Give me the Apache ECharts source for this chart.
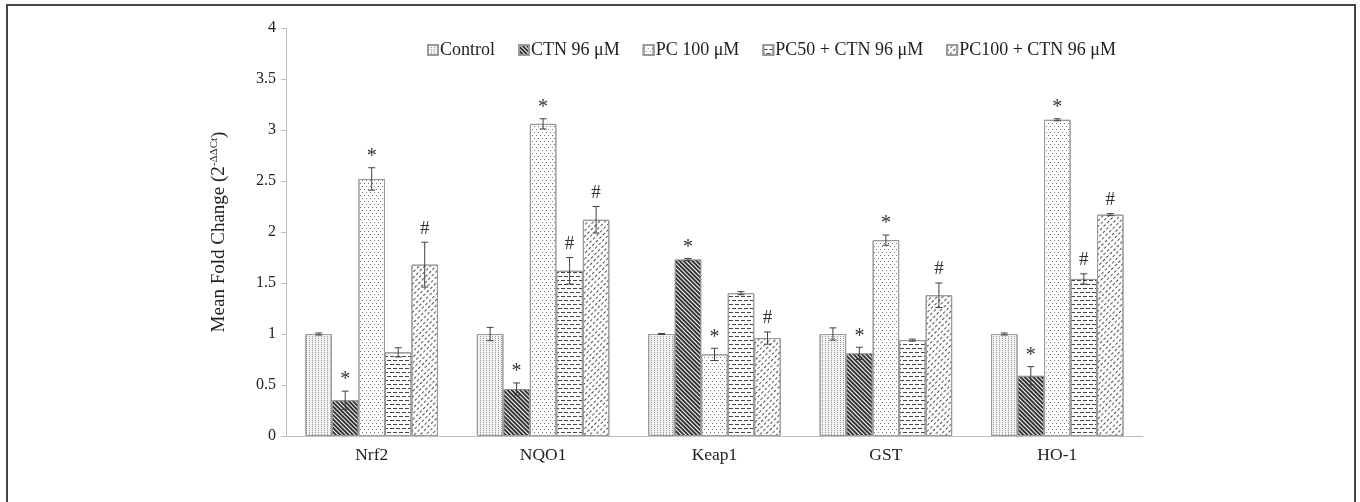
<!DOCTYPE html>
<html>
<head>
<meta charset="utf-8">
<script src="https://cdn.jsdelivr.net/npm/echarts@6/dist/echarts.min.js"></script>
<style>
  html, body { margin: 0; padding: 0; background: #fff; }
  #chart { width: 1360px; height: 502px; }
</style>
</head>
<body>
<div id="chart"></div>
<script>
// genes on the x axis
const genes = ['Nrf2', 'NQO1', 'Keap1', 'GST', 'HO-1'];
const groups = ['Control', 'CTN 96 μM', 'PC 100 μM', 'PC50 + CTN 96 μM', 'PC100 + CTN 96 μM'];
const yTicks = [0, 0.5, 1, 1.5, 2, 2.5, 3, 3.5, 4];

// mean fold change per group
const controlMean = [1.0, 1.0, 1.0, 1.0, 1.0];
const ctnMean = [0.35, 0.46, 1.73, 0.81, 0.59];
const pc100Mean = [2.52, 3.06, 0.80, 1.92, 3.10];
const pc50CtnMean = [0.82, 1.62, 1.40, 0.94, 1.54];
const pc100CtnMean = [1.68, 2.12, 0.96, 1.38, 2.17];

// error (sd) per group
const controlErr = [0.01, 0.065, 0.005, 0.06, 0.01];
const ctnErr = [0.09, 0.06, 0.01, 0.06, 0.09];
const pc100Err = [0.11, 0.05, 0.06, 0.05, 0.01];
const pc50CtnErr = [0.045, 0.13, 0.015, 0.01, 0.05];
const pc100CtnErr = [0.22, 0.13, 0.06, 0.12, 0.01];

// significance marks
const controlMark = ['', '', '', '', ''];
const ctnMark = ['*', '*', '*', '*', '*'];
const pc100Mark = ['*', '*', '*', '*', '*'];
const pc50CtnMark = ['', '#', '', '', '#'];
const pc100CtnMark = ['#', '#', '#', '#', '#'];

const means = [controlMean, ctnMean, pc100Mean, pc50CtnMean, pc100CtnMean];
const errs = [controlErr, ctnErr, pc100Err, pc50CtnErr, pc100CtnErr];
const marks = [controlMark, ctnMark, pc100Mark, pc50CtnMark, pc100CtnMark];

const font = '"Liberation Serif", "DejaVu Serif", serif';
const catGap = 0.227;

// fill patterns for the bars
const fills = [
  { color: '#f2f2f2', decal: { symbol: 'rect', symbolSize: 1, dashArrayX: [1, 1.5], dashArrayY: [1, 1], color: '#999' } },
  { color: '#ffffff', decal: { symbol: 'rect', symbolSize: 1, dashArrayX: [1, 0], dashArrayY: [1.2, 1], rotation: Math.PI / 4, color: '#333' } },
  { color: '#ffffff', decal: { symbol: 'rect', symbolSize: 1, dashArrayX: [[1, 3], [0, 2, 1, 1]], dashArrayY: [1, 1.5], color: '#777' } },
  { color: '#ffffff', decal: { symbol: 'rect', symbolSize: 1, dashArrayX: [[4, 2], [1, 2, 3, 0]], dashArrayY: [1, 3], color: '#444' } },
  { color: '#ffffff', decal: { symbol: 'rect', symbolSize: 1, dashArrayX: [3, 1.5], dashArrayY: [1, 3], rotation: -Math.PI / 4, color: '#555' } }
];

const chart = echarts.init(document.getElementById('chart'));

const barSeries = groups.map((name, i) => ({
  name: name,
  type: 'bar',
  data: means[i],
  barGap: '0%',
  barCategoryGap: (catGap * 100) + '%',
  itemStyle: {
    color: fills[i].color,
    decal: fills[i].decal,
    borderColor: '#9a9a9a',
    borderWidth: 1
  },
  emphasis: { disabled: true },
  z: 2
}));

// error bars + significance markers
const errSeries = groups.map((name, i) => ({
  type: 'custom',
  name: name + ' err',
  data: means[i].map((m, j) => [j, m, errs[i][j]]),
  z: 5,
  silent: true,
  renderItem: function (params, api) {
    const j = api.value(0);
    const m = api.value(1);
    const e = api.value(2);
    const mark = marks[i][j];
    const catW = api.size([1, 0])[0];
    const bw = catW * (1 - catGap) / groups.length;
    const c = api.coord([j, m]);
    const x = c[0] + (i - 2) * bw;
    const yTop = api.coord([j, m + e])[1];
    const yBot = api.coord([j, m - e])[1];
    const cap = 3.5;
    const style = { stroke: '#404040', lineWidth: 1 };
    const children = [
      { type: 'line', shape: { x1: x, y1: yTop, x2: x, y2: yBot }, style: style },
      { type: 'line', shape: { x1: x - cap, y1: yTop, x2: x + cap, y2: yTop }, style: style },
      { type: 'line', shape: { x1: x - cap, y1: yBot, x2: x + cap, y2: yBot }, style: style }
    ];
    if (mark) {
      children.push({
        type: 'text',
        style: {
          text: mark, x: x, y: mark === '*' ? yTop - 1 : yTop - 4,
          align: 'center', verticalAlign: 'bottom',
          font: (mark === '*' ? '20px ' : '19px ') + font,
          fill: '#333'
        }
      });
    }
    return { type: 'group', children: children };
  }
}));

const option = {
  animation: false,
  backgroundColor: '#fff',
  grid: { left: 286, right: 217, top: 28, bottom: 66 },
  legend: {
    data: groups,
    top: 36,
    left: 422,
    itemWidth: 10,
    itemHeight: 10,
    itemGap: 23,
    icon: 'rect',
    textStyle: { fontFamily: font, fontSize: 18, color: '#222', padding: [0, 0, 0, -3] }
  },
  xAxis: {
    type: 'category',
    data: genes,
    axisLine: { lineStyle: { color: '#bfbfbf', width: 1 } },
    axisTick: { alignWithLabel: true, length: 4, lineStyle: { color: '#bfbfbf' } },
    axisLabel: { fontFamily: font, fontSize: 17.5, color: '#222', margin: 10 }
  },
  yAxis: {
    type: 'value',
    min: 0,
    max: 4,
    interval: 0.5,
    splitLine: { show: false },
    axisLine: { show: true, lineStyle: { color: '#bfbfbf', width: 1 } },
    axisTick: { show: true, length: 5, lineStyle: { color: '#bfbfbf' } },
    axisLabel: {
      fontFamily: font, fontSize: 16, color: '#222', margin: 10,
      formatter: v => yTicks.includes(v) ? String(v) : ''
    },
    name: '{a|Mean Fold Change (2}{b|-ΔΔCt}{a|)}',
    nameLocation: 'middle',
    nameGap: 56,
    nameRotate: 90,
    nameTextStyle: {
      rich: {
        a: { fontFamily: font, fontSize: 19, color: '#222' },
        b: { fontFamily: font, fontSize: 11, color: '#222', padding: [0, 0, 10, 0] }
      }
    }
  },
  graphic: [{
    type: 'polyline',
    shape: { points: [[7, 502], [7, 5], [1355, 5], [1355, 502]] },
    style: { stroke: '#444', lineWidth: 2, fill: null },
    silent: true
  }],
  series: barSeries.concat(errSeries)
};

chart.setOption(option);
</script>
</body>
</html>
